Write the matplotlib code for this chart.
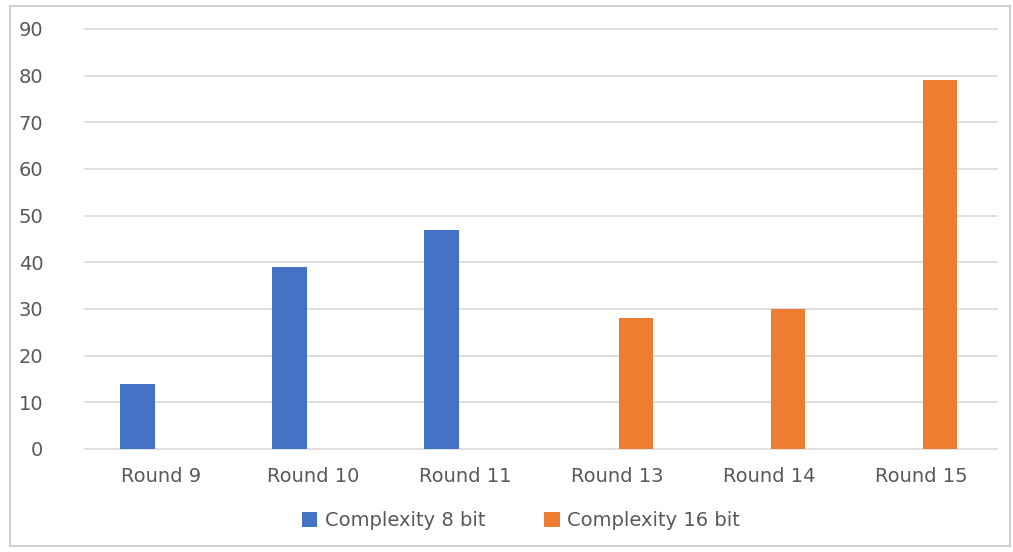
import numpy as np
import matplotlib.pyplot as plt
from matplotlib.patches import Rectangle

categories = ["Round 9", "Round 10", "Round 11", "Round 13", "Round 14", "Round 15"]
complexity_8 = [14, 39, 47, 0, 0, 0]
complexity_16 = [0, 0, 0, 28, 30, 79]
yticks = [0, 10, 20, 30, 40, 50, 60, 70, 80, 90]

blue = '#4472C4'
orange = '#ED7D31'
grey_text = '#595959'

fig = plt.figure(figsize=(10.13, 5.52), dpi=100)
ax = fig.add_axes([85 / 1013, 1 - 449 / 552, 912 / 1013, 420 / 552])

x = np.arange(len(categories))
w = 0.225
ax.bar(x - 0.155, complexity_8, width=w, color=blue, label="Complexity 8 bit", zorder=3)
ax.bar(x + 0.125, complexity_16, width=w, color=orange, label="Complexity 16 bit", zorder=3)

ax.set_xlim(-0.5, len(categories) - 0.5)
ax.set_ylim(0, 90)
ax.set_yticks(yticks)
ax.set_xticks(x)
ax.set_xticklabels(categories)
ax.tick_params(axis='both', length=0, labelsize=14, labelcolor=grey_text)
ax.tick_params(axis='x', pad=13)
ax.tick_params(axis='y', pad=30)

ax.grid(axis='y', color='#d9d9d9', linewidth=1.2, zorder=0)
for gl in ax.get_ygridlines():
    gl.set_clip_on(False)
for s in ax.spines.values():
    s.set_visible(False)

leg = fig.legend(loc='center', bbox_to_anchor=(521 / 1013, 1 - 521 / 552), ncol=2,
                 frameon=False, fontsize=14, handlelength=0.8, handleheight=0.8,
                 columnspacing=3.0, handletextpad=0.4)
for t in leg.get_texts():
    t.set_color(grey_text)

# outer chart frame
fig.patches.append(Rectangle((10 / 1013, 6 / 552), 1000 / 1013, 540 / 552,
                             transform=fig.transFigure, fill=False,
                             edgecolor='#d0d0d0', linewidth=1.5))

plt.savefig("out.png", dpi=100)
